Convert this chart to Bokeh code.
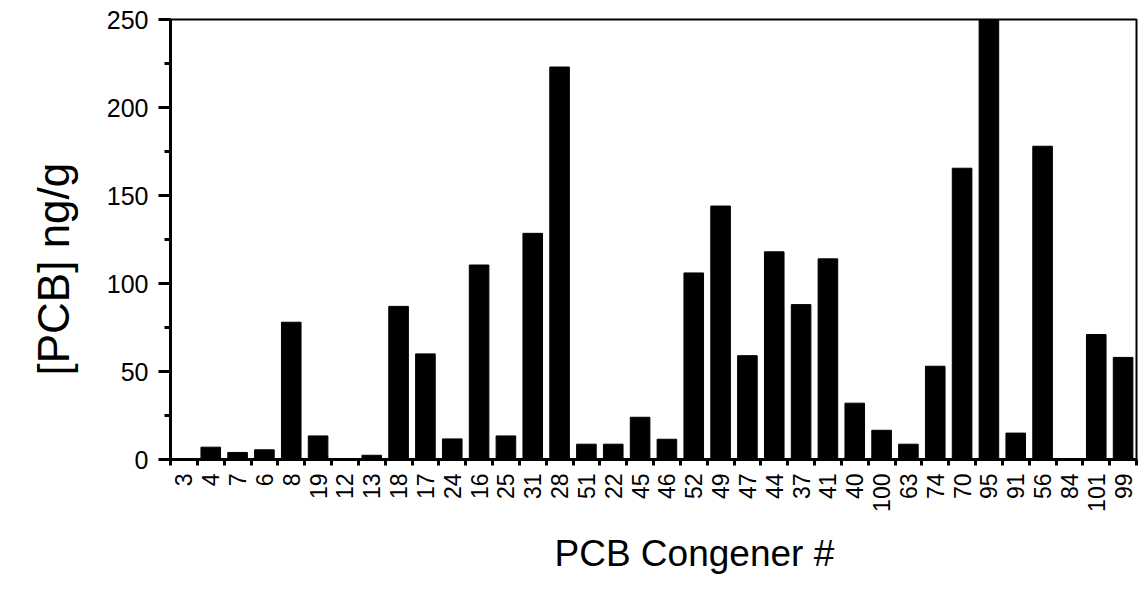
import numpy as np
from bokeh.plotting import figure
from bokeh.models import FixedTicker, SingleIntervalTicker, Range1d, Title
from bokeh.embed import file_html
from bokeh.resources import INLINE

congeners = ["3", "4", "7", "6", "8", "19", "12", "13", "18", "17", "24", "16",
             "25", "31", "28", "51", "22", "45", "46", "52", "49", "47", "44", "37",
             "41", "40", "100", "63", "74", "70", "95", "91", "56", "84", "101", "99"]
pcb_ng_g = [0, 7, 4, 5.5, 78, 13.4, 0, 2.4, 87, 60, 11.7, 110.5,
            13.4, 128.5, 223, 8.7, 8.7, 24, 11.5, 106, 144, 59, 118, 88,
            114, 32, 16.6, 8.7, 53, 165.5, 255, 15, 178, 0.5, 71, 58]
y_max = 250
y_step = 50

FONT = "Liberation Sans"

n = len(congeners)
centers = [i + 0.5 for i in range(n)]
bounds = list(range(n + 1))

p = figure(width=1141, height=590, x_range=Range1d(0, n), y_range=Range1d(0, y_max),
           output_backend="svg", toolbar_location=None,
           min_border_left=170, min_border_right=5, min_border_top=19, min_border_bottom=131)

p.vbar(x=centers, top=pcb_ng_g, width=0.73, color="black")

p.xgrid.visible = False
p.ygrid.visible = False
p.outline_line_color = "black"
p.outline_line_width = 2

xa = p.xaxis[0]
xa.ticker = FixedTicker(ticks=centers, minor_ticks=bounds)
xa.major_label_overrides = {c: lab for c, lab in zip(centers, congeners)}
xa.axis_line_width = 3
xa.major_tick_out = 0
xa.major_tick_in = 0
xa.minor_tick_out = 6
xa.minor_tick_in = 0
xa.minor_tick_line_width = 3
xa.major_label_orientation = np.pi / 2
xa.major_label_text_font = FONT
xa.major_label_text_font_size = "23px"
xa.major_label_text_color = "black"
xa.major_label_standoff = 8

ya = p.yaxis[0]
ya.ticker = SingleIntervalTicker(interval=y_step, num_minor_ticks=2)
ya.axis_line_width = 3
ya.major_tick_out = 12
ya.major_tick_in = 0
ya.major_tick_line_width = 3
ya.minor_tick_out = 6
ya.minor_tick_in = 0
ya.minor_tick_line_width = 3
ya.major_label_text_font = FONT
ya.major_label_text_font_size = "25px"
ya.major_label_text_color = "black"
ya.major_label_standoff = 10

p.add_layout(Title(text="PCB Congener #", align="left", offset=384, standoff=33,
                   text_font=FONT, text_font_size="37px", text_font_style="normal",
                   text_color="black"), "below")
p.add_layout(Title(text="[PCB] ng/g", align="left", offset=84, standoff=48,
                   vertical_align="top",
                   text_font=FONT, text_font_size="44px", text_font_style="normal",
                   text_color="black"), "left")

open("out.html", "w").write(file_html(p, INLINE))
